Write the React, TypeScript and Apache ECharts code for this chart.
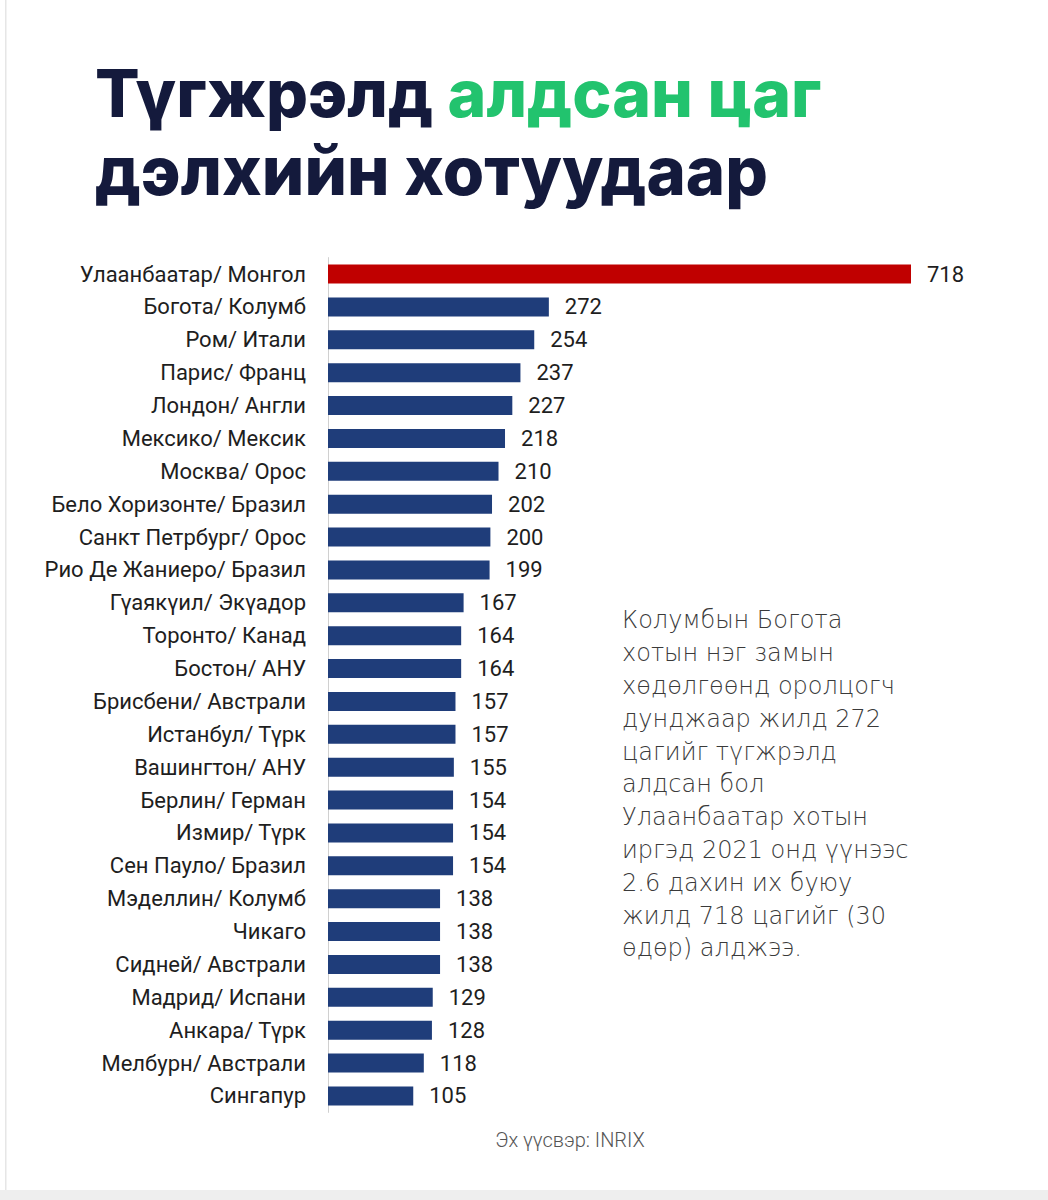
import React, { useEffect, useRef } from "react";
import * as echarts from "echarts";

const cities = [
  "Улаанбаатар/ Монгол",
  "Богота/ Колумб",
  "Ром/ Итали",
  "Парис/ Франц",
  "Лондон/ Англи",
  "Мексико/ Мексик",
  "Москва/ Орос",
  "Бело Хоризонте/ Бразил",
  "Санкт Петрбург/ Орос",
  "Рио Де Жаниеро/ Бразил",
  "Гүаякүил/ Экүадор",
  "Торонто/ Канад",
  "Бостон/ АНУ",
  "Брисбени/ Австрали",
  "Истанбул/ Түрк",
  "Вашингтон/ АНУ",
  "Берлин/ Герман",
  "Измир/ Түрк",
  "Сен Пауло/ Бразил",
  "Мэделлин/ Колумб",
  "Чикаго",
  "Сидней/ Австрали",
  "Мадрид/ Испани",
  "Анкара/ Түрк",
  "Мелбурн/ Австрали",
  "Сингапур",
];

const hoursLost = [
  718, 272, 254, 237, 227, 218, 210, 202, 200, 199, 167, 164, 164, 157, 157,
  155, 154, 154, 154, 138, 138, 138, 129, 128, 118, 105,
];

const titleLine1Dark = "Түгжрэлд ";
const titleLine1Green = "алдсан цаг";
const titleLine2 = "дэлхийн хотуудаар";

const noteLines = [
  "Колумбын Богота",
  "хотын нэг замын",
  "хөдөлгөөнд оролцогч",
  "дунджаар жилд 272",
  "цагийг түгжрэлд",
  "алдсан бол",
  "Улаанбаатар хотын",
  "иргэд 2021 онд үүнээс",
  "2.6 дахин их буюу",
  "жилд 718 цагийг (30",
  "өдөр) алджээ.",
];

const sourceText = "Эх үүсвэр: INRIX";

const LABEL_FONT = "Roboto, 'Noto Sans', sans-serif";
const TITLE_FONT = "Inter, 'Open Sans', sans-serif";

export default function App() {
  const ref = useRef<HTMLDivElement>(null);

  useEffect(() => {
    document.body.style.margin = "0";
    if (!ref.current) return;
    const chart = echarts.init(ref.current, undefined, { renderer: "svg" });

    const data = hoursLost.map((v, i) => ({
      value: v,
      itemStyle: { color: i === 0 ? "#c00000" : "#1f3d7a" },
    }));

    const titleStyle = {
      fontSize: 66,
      fontWeight: 800,
      fontFamily: TITLE_FONT,
    };

    chart.setOption({
      animation: false,
      backgroundColor: "#ffffff",
      grid: { left: 328, right: 137, top: 257.6, bottom: 87.6 },
      xAxis: {
        type: "value",
        min: 0,
        max: 718,
        show: false,
      },
      yAxis: {
        type: "category",
        data: cities,
        inverse: true,
        axisLine: { show: true, lineStyle: { color: "#d0d0d0", width: 1 } },
        axisTick: { show: false },
        axisLabel: {
          margin: 22,
          fontSize: 22,
          color: "#1e1e1e",
          fontFamily: LABEL_FONT,
        },
      },
      series: [
        {
          type: "bar",
          data,
          barWidth: 19,
          label: {
            show: true,
            position: "right",
            distance: 16,
            fontSize: 22,
            color: "#1e1e1e",
            fontFamily: LABEL_FONT,
          },
        },
      ],
      graphic: [
        {
          type: "rect",
          shape: { x: 5, y: 0, width: 1.5, height: 1190 },
          style: { fill: "#e6e6e6" },
          silent: true,
        },
        {
          type: "rect",
          shape: { x: 0, y: 1190, width: 1048, height: 10 },
          style: { fill: "#eeeeee" },
          silent: true,
        },
        {
          type: "text",
          x: 95,
          y: 93,
          style: {
            text: "{d|" + titleLine1Dark + "}{g|" + titleLine1Green + "}",
            verticalAlign: "middle",
            rich: {
              d: { ...titleStyle, lineHeight: 66, fill: "#141a3c" },
              g: { ...titleStyle, lineHeight: 66, fill: "#22c36e" },
            },
          },
        },
        {
          type: "text",
          x: 95,
          y: 170,
          style: {
            text: titleLine2,
            verticalAlign: "middle",
            ...titleStyle,
            fontSize: 67,
            lineHeight: 66,
            fill: "#141a3c",
          },
        },
        {
          type: "text",
          x: 622,
          y: 604,
          style: {
            text: noteLines.join("\n"),
            verticalAlign: "top",
            fontSize: 24,
            lineHeight: 32.8,
            fontWeight: 300,
            fontFamily: "'DejaVu Sans', 'Open Sans', sans-serif",
            fill: "#3a3a3a",
          },
        },
        {
          type: "text",
          x: 570,
          y: 1140,
          style: {
            text: sourceText,
            align: "center",
            verticalAlign: "middle",
            fontSize: 20,
            fontWeight: 300,
            fontFamily: LABEL_FONT,
            fill: "#555555",
          },
        },
      ],
    });

    return () => chart.dispose();
  }, []);

  return <div ref={ref} style={{ width: 1048, height: 1200 }} />;
}
